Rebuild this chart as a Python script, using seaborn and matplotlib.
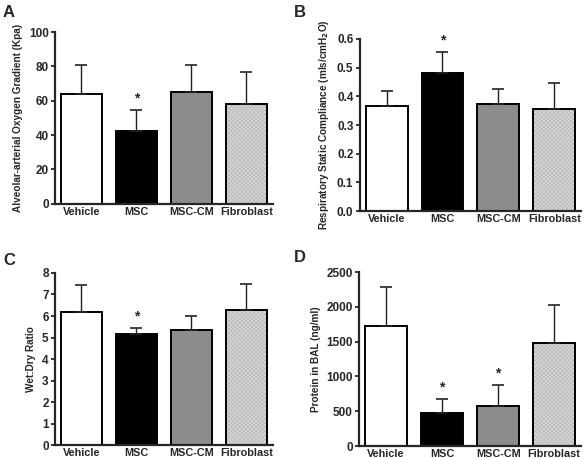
import seaborn as sns
import matplotlib.pyplot as plt
import pandas as pd
from matplotlib.patches import Rectangle

groups = ["Vehicle", "MSC", "MSC-CM", "Fibroblast"]

aa_gradient = [64, 42.5, 65, 58]
aa_gradient_sem = [17, 12, 16, 19]

compliance = [0.367, 0.483, 0.373, 0.355]
compliance_sem = [0.053, 0.072, 0.052, 0.092]

wet_dry = [6.2, 5.17, 5.35, 6.27]
wet_dry_sem = [1.23, 0.28, 0.65, 1.2]

bal_protein = [1730, 480, 580, 1475]
bal_protein_sem = [560, 200, 295, 550]

stars = {
    "A": [False, True, False, False],
    "B": [False, True, False, False],
    "C": [False, True, False, False],
    "D": [False, True, True, False],
}

face_colors = ["white", "black", "#8c8c8c", "#d6d6d6"]

sns.set_style("ticks")
plt.rcParams["font.family"] = ["Liberation Sans", "DejaVu Sans"]
plt.rcParams["font.weight"] = "bold"
plt.rcParams["mathtext.default"] = "bf"
plt.rcParams["hatch.linewidth"] = 0.4

fig = plt.figure(figsize=(5.84, 4.58), dpi=100)

panels = [
    ("A", [0.094, 0.555, 0.373, 0.375], aa_gradient, aa_gradient_sem, (0, 100), [0, 20, 40, 60, 80, 100],
     "Alveolar-arterial Oxygen Gradient (Kpa)", "{:.0f}"),
    ("B", [0.616, 0.539, 0.379, 0.376], compliance, compliance_sem, (0, 0.6), [0, 0.1, 0.2, 0.3, 0.4, 0.5, 0.6],
     "Respiratory Static Compliance (mls/cmH$_2$O)", "{:.1f}"),
    ("C", [0.094, 0.028, 0.373, 0.376], wet_dry, wet_dry_sem, (0, 8), list(range(0, 9)),
     "Wet:Dry Ratio", "{:.0f}"),
    ("D", [0.615, 0.026, 0.380, 0.380], bal_protein, bal_protein_sem, (0, 2500), [0, 500, 1000, 1500, 2000, 2500],
     "Protein in BAL (ng/ml)", "{:.0f}"),
]

letter_pos = {"A": (0.005, 0.99), "B": (0.503, 0.99), "C": (0.005, 0.447), "D": (0.503, 0.455)}

for letter, rect, vals, sems, ylim, yticks, ylabel, fmt in panels:
    ax = fig.add_axes(rect)
    df = pd.DataFrame({"group": groups, "value": vals})
    sns.barplot(data=df, x="group", y="value", hue="group", palette=face_colors,
                width=0.75, errorbar=None, legend=False, ax=ax,
                edgecolor="black", linewidth=1.4)
    for patch, fc in list(zip(ax.patches, face_colors)):
        patch.set_facecolor(fc)
        if fc == "#d6d6d6":
            # hatch takes the edge colour, so redraw the outline on top
            patch.set_edgecolor("#b4b4b4")
            patch.set_hatch("xxxxxxxx")
            ax.add_patch(Rectangle(patch.get_xy(), patch.get_width(), patch.get_height(),
                                   fill=False, edgecolor="black", linewidth=1.4, zorder=patch.get_zorder()))
    ax.errorbar(range(len(vals)), vals, yerr=[[0] * len(sems), sems], fmt="none",
                ecolor="#222222", elinewidth=1.0, capsize=4, capthick=1.2, zorder=1)
    top = ylim[1]
    for i, (v, s, st) in enumerate(zip(vals, sems, stars[letter])):
        if st:
            ax.text(i, v + s + top * 0.025, "*", ha="center", va="bottom",
                    fontsize=10, fontweight="bold")
    ax.set_xlim(-0.48, 3.48)
    ax.set_ylim(*ylim)
    ax.set_yticks(yticks)
    ax.set_yticklabels([fmt.format(t) for t in yticks], fontsize=8.5, fontweight="bold")
    ax.set_xticks(range(len(groups)))
    ax.set_xticklabels(groups, fontsize=7.8, fontweight="bold")
    ax.tick_params(axis="x", length=0, pad=2)
    ax.tick_params(axis="y", length=3, width=1.3, pad=1.5)
    ax.set_xlabel("")
    ax.set_ylabel(ylabel, fontsize=7.2, fontweight="bold", labelpad=4)
    sns.despine(ax=ax)
    for sp in ["left", "bottom"]:
        ax.spines[sp].set_linewidth(1.6)
    fig.text(letter_pos[letter][0], letter_pos[letter][1], letter, fontsize=12,
             fontweight="bold", ha="left", va="top")

fig.savefig("out.png", dpi=100)
